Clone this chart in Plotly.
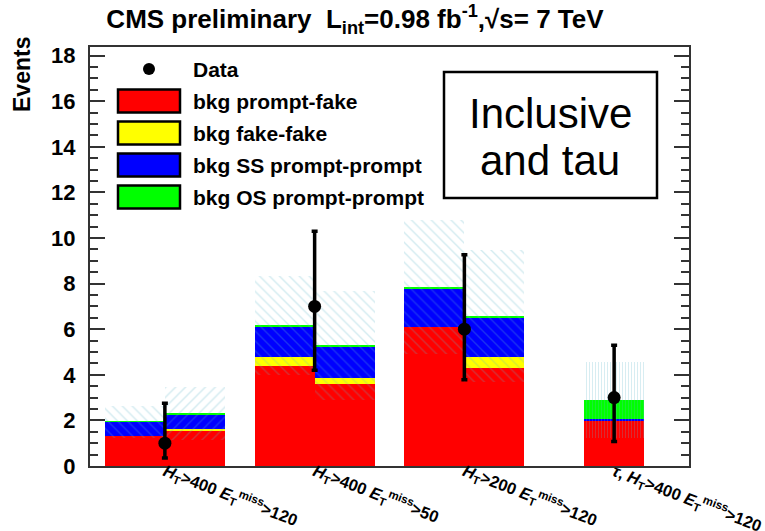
import plotly.graph_objects as go

# ---------------- data ----------------
group_labels = [
    "<i>H</i><sub>T</sub>&gt;400 <i>E</i><sub>T</sub><sup>miss</sup>&gt;120",
    "<i>H</i><sub>T</sub>&gt;400 <i>E</i><sub>T</sub><sup>miss</sup>&gt;50",
    "<i>H</i><sub>T</sub>&gt;200 <i>E</i><sub>T</sub><sup>miss</sup>&gt;120",
    "<i>τ</i>, <i>H</i><sub>T</sub>&gt;400 <i>E</i><sub>T</sub><sup>miss</sup>&gt;120",
]
bins_per_group = [2, 2, 2, 1]

prompt_fake = [1.30, 1.54, 4.40, 3.59, 6.08, 4.32, 2.01]
fake_fake   = [0.00, 0.07, 0.39, 0.26, 0.00, 0.47, 0.00]
ss_prompt   = [0.63, 0.67, 1.33, 1.40, 1.67, 1.73, 0.05]
os_prompt   = [0.02, 0.02, 0.06, 0.04, 0.09, 0.06, 0.84]
bkg_unc     = [0.70, 1.15, 2.17, 2.40, 2.93, 2.90, 1.68]

data_vals   = [1, 7, 6, 3]
data_err_up = [1.75, 3.30, 3.27, 2.30]
data_err_dn = [0.65, 2.80, 2.22, 1.93]

series_names = ["bkg prompt-fake", "bkg fake-fake", "bkg SS prompt-prompt", "bkg OS prompt-prompt"]
series_colors = ["#ff0000", "#ffff00", "#0000ff", "#00ff00"]
ymax = 18.38

# ---------------- layout helpers ----------------
group_starts = [0.25, 2.75, 5.25, 8.25]
bin_x = []
for gs, nb in zip(group_starts, bins_per_group):
    for k in range(nb):
        bin_x.append(gs + k + 0.5)
group_centers = [gs + nb / 2 for gs, nb in zip(group_starts, bins_per_group)]

L, R, T, B = 90, 689, 47, 466
def xp(px):
    return (px - L) / (R - L)
def yp(py):
    return (B - py) / (B - T)

fig = go.Figure()

# stacked components
base = [0.0] * len(bin_x)
series = [prompt_fake, fake_fake, ss_prompt, os_prompt]
for name, vals, col in zip(series_names, series, series_colors):
    fig.add_trace(go.Bar(
        x=bin_x, y=vals, base=list(base), width=1.0,
        marker=dict(color=col, line=dict(width=0)),
        name=name, showlegend=False,
    ))
    base = [b + v for b, v in zip(base, vals)]
totals = base

# uncertainty bands
shapes_pat = ["\\", "/", "\\", "\\", "\\", "\\", "|"]
for i in range(len(bin_x)):
    dotted = shapes_pat[i] == "|"
    fig.add_trace(go.Bar(
        x=[bin_x[i]], y=[2 * bkg_unc[i]], base=[totals[i] - bkg_unc[i]], width=1.0,
        marker=dict(color="rgba(0,0,0,0)", line=dict(width=0),
                    pattern=dict(shape=shapes_pat[i],
                                 fgcolor="rgba(90,180,200,0.55)",
                                 bgcolor="rgba(0,0,0,0)",
                                 size=3 if dotted else 7,
                                 solidity=0.3 if dotted else 0.2)),
        showlegend=False, hoverinfo="skip",
    ))

# data
data_x = [gs + nb / 2 if nb > 1 else gs + 0.5 for gs, nb in zip(group_starts, bins_per_group)]
fig.add_trace(go.Scatter(
    x=data_x, y=data_vals, mode="markers",
    marker=dict(color="black", size=13),
    error_y=dict(type="data", symmetric=False, array=data_err_up, arrayminus=data_err_dn,
                 color="black", thickness=3.5, width=3),
    name="Data", showlegend=False,
))

shapes = []
annotations = []
FONT = "Liberation Sans"

# legend
leg_rows = [69, 101, 133, 165, 197]
shapes.append(dict(type="circle", xref="paper", yref="paper",
                   x0=xp(143), x1=xp(155), y0=yp(75), y1=yp(63),
                   fillcolor="black", line=dict(color="black", width=0)))
annotations.append(dict(xref="paper", yref="paper", x=xp(191), y=yp(leg_rows[0]),
                        text="Data", showarrow=False, xanchor="left", yanchor="middle",
                        font=dict(family=FONT, size=21, color="black", weight="bold")))
for j, (name, col) in enumerate(zip(series_names, series_colors)):
    cy = leg_rows[j + 1]
    shapes.append(dict(type="rect", xref="paper", yref="paper",
                       x0=xp(118), x1=xp(180), y0=yp(cy + 11.5), y1=yp(cy - 11.5),
                       fillcolor=col, line=dict(color="black", width=2.5)))
    annotations.append(dict(xref="paper", yref="paper", x=xp(191), y=yp(cy),
                            text=name, showarrow=False, xanchor="left", yanchor="middle",
                            font=dict(family=FONT, size=21, color="black", weight="bold")))

# text box
shapes.append(dict(type="rect", xref="paper", yref="paper",
                   x0=xp(444), x1=xp(657), y0=yp(198), y1=yp(72),
                   fillcolor="white", line=dict(color="black", width=2.5)))
annotations.append(dict(xref="paper", yref="paper", x=xp(550), y=yp(113),
                        text="Inclusive", showarrow=False, xanchor="center", yanchor="middle",
                        font=dict(family=FONT, size=42, color="black")))
annotations.append(dict(xref="paper", yref="paper", x=xp(550), y=yp(160),
                        text="and tau", showarrow=False, xanchor="center", yanchor="middle",
                        font=dict(family=FONT, size=42, color="black")))

# y title
annotations.append(dict(xref="paper", yref="paper", x=xp(22), y=yp(75),
                        text="Events", showarrow=False, textangle=-90,
                        xanchor="center", yanchor="middle",
                        font=dict(family=FONT, size=23, color="black", weight="bold")))

fig.update_layout(
    width=765, height=531,
    margin=dict(l=L, r=765 - R, t=T, b=531 - B, autoexpand=False),
    paper_bgcolor="white", plot_bgcolor="white",
    barmode="overlay", bargap=0,
    showlegend=False,
    title=dict(text="CMS preliminary  L<sub>int</sub>=0.98 fb<sup>-1</sup>,√s= 7 TeV",
               xref="container", yref="container", x=355 / 765, y=1 - 19 / 531,
               xanchor="center", yanchor="middle",
               font=dict(family=FONT, size=26, color="black", weight="bold")),
    xaxis=dict(range=[0, 10], showgrid=False, zeroline=False, automargin=False,
               showline=True, linecolor="#333", linewidth=2, mirror=True,
               tickvals=group_centers, ticktext=group_labels, tickangle=21,
               ticklabelstandoff=-12, ticklabeloverflow="allow",
               ticks="", tickfont=dict(family=FONT, size=16.5, color="black", weight="bold")),
    yaxis=dict(range=[0, ymax], showgrid=False, zeroline=False, automargin=False,
               showline=True, linecolor="#333", linewidth=2, mirror="allticks",
               tickvals=list(range(0, 19, 2)), ticks="inside", ticklen=15, tickwidth=2, tickcolor="#333",
               ticklabelstandoff=8,
               tickfont=dict(family=FONT, size=22, color="black", weight="bold"),
               minor=dict(dtick=0.5, ticks="inside", ticklen=8, tickwidth=1.5, tickcolor="#333")),
    shapes=shapes, annotations=annotations,
)

fig.write_html("out.html", config={"displayModeBar": False},
               post_script="document.body.style.margin='0px';document.body.style.overflow='hidden';")
